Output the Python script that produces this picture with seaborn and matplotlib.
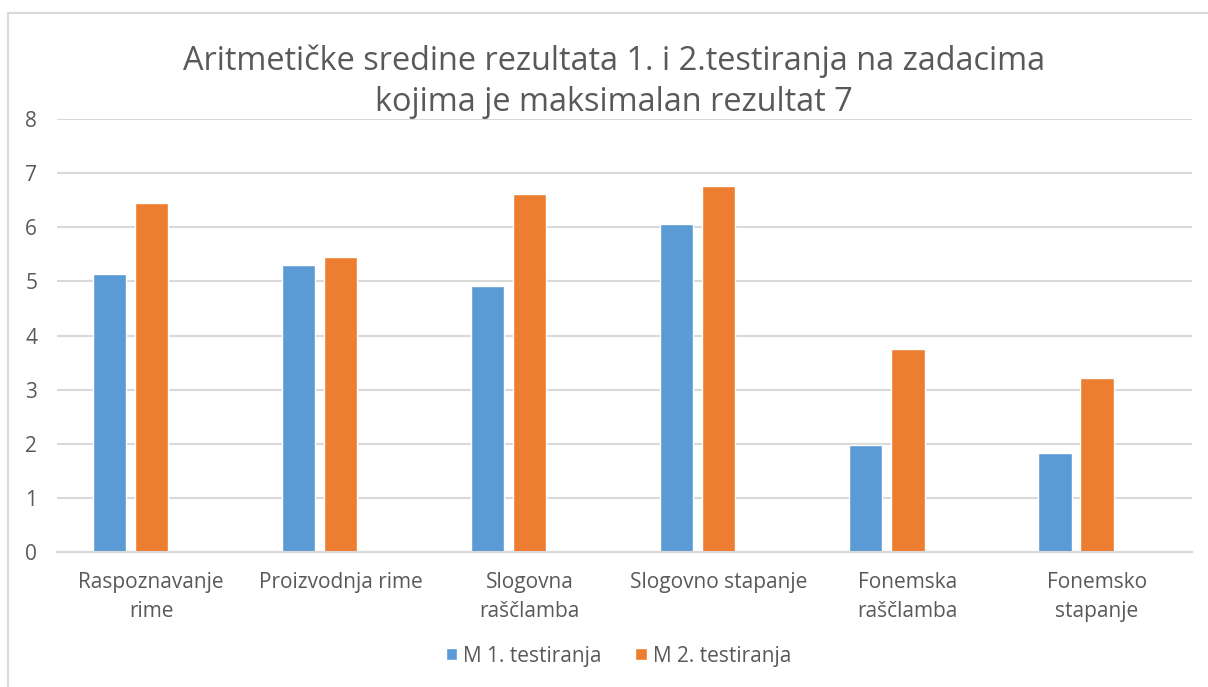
import matplotlib
matplotlib.use("Agg")
import matplotlib.pyplot as plt
from matplotlib.patches import Patch, Rectangle
import pandas as pd
import seaborn as sns

categories = ["Raspoznavanje\nrime", "Proizvodnja rime", "Slogovna\nraščlamba",
              "Slogovno stapanje", "Fonemska\nraščlamba", "Fonemsko\nstapanje"]
series_names = ["M 1. testiranja", "M 2. testiranja"]
m1 = [5.14, 5.30, 4.91, 6.07, 1.99, 1.84]
m2 = [6.45, 5.45, 6.61, 6.77, 3.76, 3.22]
y_ticks = [0, 1, 2, 3, 4, 5, 6, 7, 8]

BLUE = "#5B9BD5"
ORANGE = "#ED7D31"
GRID = "#D9D9D9"
TEXT = "#595959"

sns.set_theme(style="white")
plt.rcParams["font.family"] = ["Open Sans", "DejaVu Sans"]

df = pd.DataFrame({
    "kategorija": categories * 2,
    "serija": [series_names[0]] * 6 + [series_names[1]] * 6,
    "M": m1 + m2,
})

fig = plt.figure(figsize=(12.08, 6.87), dpi=100)
ax = fig.add_axes([0.0469, 0.196, 0.9396, 0.6308])

# third (empty) level reserves the slot Excel leaves on the right of each group
sns.barplot(data=df, x="kategorija", y="M", hue="serija",
            hue_order=series_names + ["_prazno"],
            palette=[BLUE, ORANGE, "white"], order=categories,
            width=0.667, gap=0.21, saturation=1, legend=False, ax=ax)

ax.set_ylim(0, 8)
ax.set_yticks(y_ticks)
ax.set_xlim(-0.5, len(categories) - 0.5)
ax.yaxis.grid(True, color=GRID, linewidth=1.5)
ax.set_axisbelow(True)
for side in ["left", "right", "top"]:
    ax.spines[side].set_visible(False)
ax.spines["bottom"].set_color(GRID)
ax.spines["bottom"].set_linewidth(1.5)
ax.tick_params(axis="both", length=0, labelsize=15, colors=TEXT)
ax.tick_params(axis="y", pad=14)
ax.tick_params(axis="x", pad=14)
ax.set_xlabel("")
ax.set_ylabel("")
for lbl in ax.get_xticklabels():
    lbl.set_linespacing(1.5)

fig.text(0.508, 0.881, "Aritmetičke sredine rezultata 1. i 2.testiranja na zadacima\n"
         "kojima je maksimalan rezultat 7", ha="center", va="center",
         fontsize=23.4, color=TEXT, linespacing=1.3)

handles = [Patch(facecolor=BLUE, label=series_names[0]),
           Patch(facecolor=ORANGE, label=series_names[1])]
fig.legend(handles=handles, loc="center", bbox_to_anchor=(0.512, 0.045), ncol=2,
           frameon=False, fontsize=15, labelcolor=TEXT, handlelength=0.55,
           handleheight=0.55, handletextpad=0.3, columnspacing=1.6)

fig.add_artist(Rectangle((8 / 1208, -0.1), 1.2, 1.1 - 13 / 687, transform=fig.transFigure,
                         fill=False, edgecolor=GRID, linewidth=1.5))

fig.savefig("out.png", dpi=100)
plt.close(fig)
